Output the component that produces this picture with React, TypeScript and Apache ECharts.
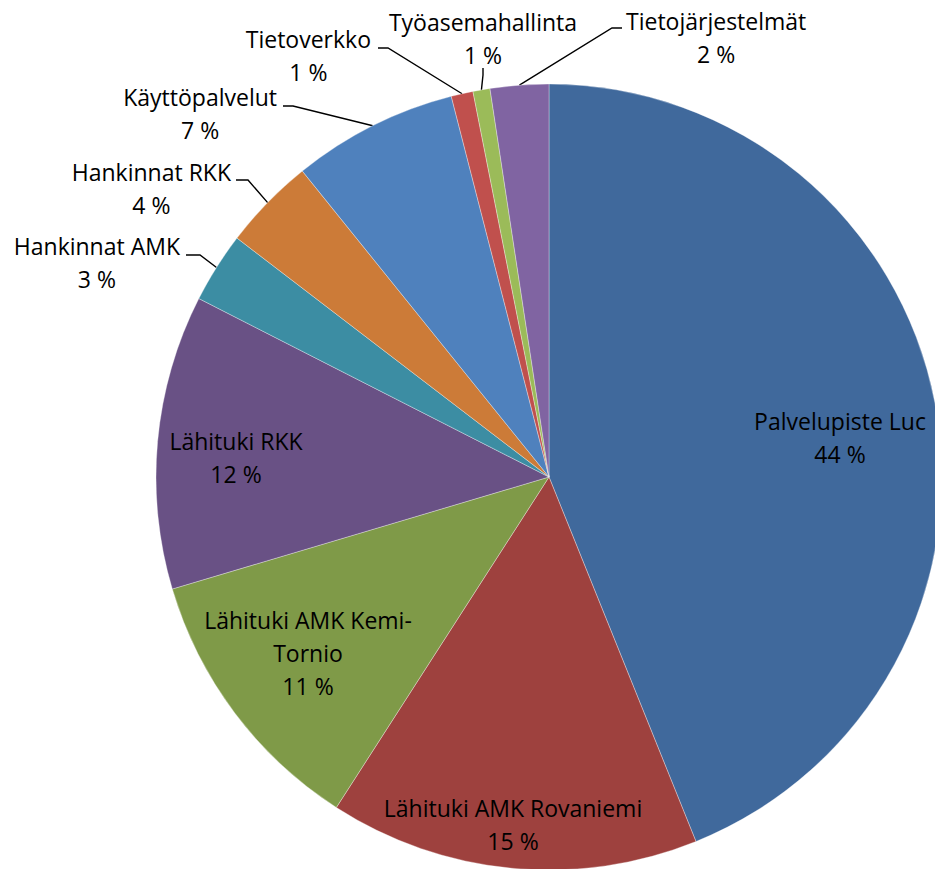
import React, { useEffect, useRef } from 'react';
import * as echarts from 'echarts';

// ---- data ----
const categories = [
  'Palvelupiste Luc',
  'Lähituki AMK Rovaniemi',
  'Lähituki AMK Kemi-Tornio',
  'Lähituki RKK',
  'Hankinnat AMK',
  'Hankinnat RKK',
  'Käyttöpalvelut',
  'Tietoverkko',
  'Työasemahallinta',
  'Tietojärjestelmät',
];
const shares = [43.9, 15.2, 11.3, 12.1, 2.9, 3.8, 6.8, 0.9, 0.7, 2.4];
const sliceColors = [
  '#40699C', '#9E413E', '#7F9A48', '#695185', '#3C8DA3',
  '#CC7B38', '#4F81BD', '#C0504D', '#9BBB59', '#8064A2',
];
const outsideLabels = ['Hankinnat AMK', 'Hankinnat RKK', 'Käyttöpalvelut', 'Tietoverkko', 'Työasemahallinta', 'Tietojärjestelmät'];

// ---- label placement (layout, not data) ----
type Place = {
  x: number; // reference x (center, right edge or left edge)
  y: number;
  side: 'center' | 'right' | 'left';
  line?: number[][];
};
const labelPlacement: Record<string, Place> = {
  'Palvelupiste Luc': { x: 840, y: 437, side: 'center' },
  'Lähituki AMK Rovaniemi': { x: 513, y: 824, side: 'center' },
  'Lähituki AMK Kemi-Tornio': { x: 308, y: 653, side: 'center' },
  'Lähituki RKK': { x: 236, y: 457, side: 'center' },
  'Hankinnat AMK': { x: 180, y: 262, side: 'right', line: [[200, 255], [186, 255]] },
  'Hankinnat RKK': { x: 231, y: 188, side: 'right', line: [[248, 180], [236, 180]] },
  'Käyttöpalvelut': { x: 277, y: 113, side: 'right', line: [[293, 106], [283, 106]] },
  'Tietoverkko': { x: 371, y: 55, side: 'right', line: [[388, 48], [378, 48]] },
  'Työasemahallinta': { x: 483, y: 38, side: 'center', line: [[483, 75], [483, 68]] },
  'Tietojärjestelmät': { x: 626, y: 37, side: 'left', line: [[612, 28], [622, 28]] },
};

const wrapName = (n: string) => (n === 'Lähituki AMK Kemi-Tornio' ? 'Lähituki AMK Kemi-\nTornio' : n);

export default function App() {
  const ref = useRef<HTMLDivElement>(null);

  useEffect(() => {
    if (!ref.current) return;
    const chart = echarts.init(ref.current, undefined, { renderer: 'svg' });

    const data = categories.map((name, i) => {
      const outside = outsideLabels.includes(name);
      return {
        name,
        value: shares[i],
        itemStyle: { color: sliceColors[i] },
        label: { position: outside ? 'outside' : 'inside' },
        labelLine: { show: outside },
      };
    });

    chart.setOption({
      animation: false,
      backgroundColor: '#ffffff',
      series: [
        {
          type: 'pie',
          center: [549, 477],
          radius: 393,
          startAngle: 90,
          clockwise: true,
          avoidLabelOverlap: false,
          silent: true,
          itemStyle: { borderColor: 'rgba(255,255,255,0.55)', borderWidth: 0.6 },
          label: {
            show: true,
            color: '#000000',
            fontFamily: 'Open Sans',
            fontSize: 23,
            lineHeight: 33,
            formatter: (p: any) => `${wrapName(p.name)}\n${Math.round(p.percent)} %`,
          },
          labelLine: {
            show: true,
            lineStyle: { color: '#000000', width: 1.4 },
          },
          labelLayout: (params: any) => {
            const name = categories[params.dataIndex];
            const pl = labelPlacement[name];
            if (!pl) return {};
            const w = params.labelRect.width;
            let cx = pl.x;
            if (pl.side === 'right') cx = pl.x - w / 2;
            if (pl.side === 'left') cx = pl.x + w / 2;
            const out: any = { x: cx, y: pl.y, align: 'center', verticalAlign: 'middle' };
            if (pl.line && params.labelLinePoints) {
              out.labelLinePoints = [params.labelLinePoints[0], ...pl.line];
            }
            return out;
          },
          data,
        },
      ],
    });

    return () => chart.dispose();
  }, []);

  return (
    <div
      ref={ref}
      style={{ position: 'absolute', left: 0, top: 0, width: 935, height: 869, background: '#fff' }}
    />
  );
}
